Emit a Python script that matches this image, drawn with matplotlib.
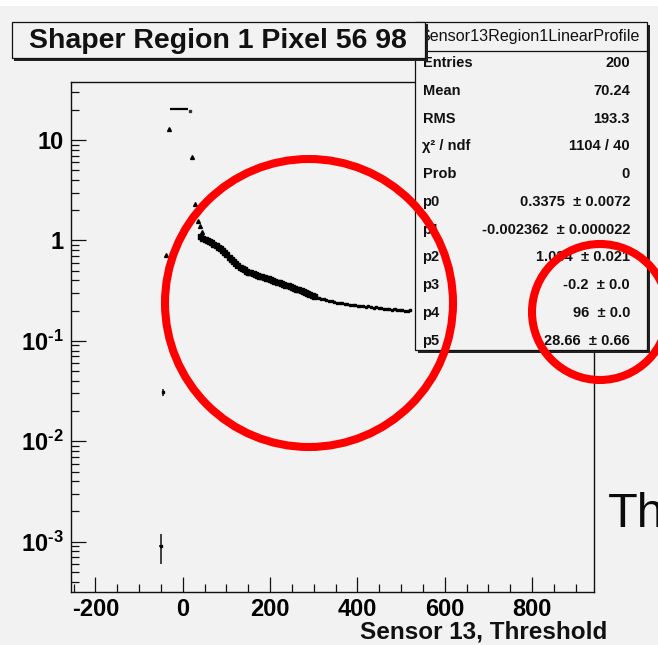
import math
import matplotlib
matplotlib.use('Agg')
import matplotlib.pyplot as plt
from matplotlib.patches import Rectangle, Ellipse
from matplotlib.ticker import FixedLocator, FuncFormatter, NullFormatter

plt.rcParams['font.family'] = ['Liberation Sans', 'DejaVu Sans']
plt.rcParams['mathtext.fontset'] = 'custom'
plt.rcParams['mathtext.rm'] = 'Liberation Sans:bold'
plt.rcParams['mathtext.bf'] = 'Liberation Sans:bold'
plt.rcParams['mathtext.it'] = 'Liberation Sans:bold'
plt.rcParams['axes.unicode_minus'] = False

# ---------------- data ----------------
title = "Shaper Region 1 Pixel 56 98"
x_label = "Sensor 13, Threshold"
stats_name = "Sensor13Region1LinearProfile"
stats_labels = ["Entries", "Mean", "RMS", "\u03c7\u00b2 / ndf", "Prob",
                "p0", "p1", "p2", "p3", "p4", "p5"]
stats_values = ["200", "70.24", "193.3", "1104 / 40", "0",
                "0.3375  \u00b1 0.0072", "-0.002362  \u00b1 0.000022",
                "1.034  \u00b1 0.021", "-0.2  \u00b1 0.0", "96  \u00b1 0.0",
                "28.66  \u00b1 0.66"]

x_ticks = [-200, 0, 200, 400, 600, 800]
x_range = [-257, 943]
y_range = [10 ** -3.501, 10 ** 1.581]

# dense part of the profile
dense_x = [40, 45, 50, 55, 60, 65, 70, 75, 80, 85, 90, 95, 100, 105, 110,
           115, 120, 125, 130, 135, 140, 145, 150, 155, 160, 165, 170, 175,
           180, 185, 190, 195, 200, 205, 210, 215, 220, 225, 230, 235, 240,
           245, 250, 255, 260, 265, 270, 275, 280, 285, 290, 295, 300]
dense_y = [1.10, 1.07, 1.04, 1.02, 0.99, 0.96, 0.93, 0.90, 0.87, 0.84,
           0.80, 0.77, 0.73, 0.69, 0.65, 0.62, 0.59, 0.565, 0.545, 0.53,
           0.515, 0.50, 0.49, 0.48, 0.47, 0.462, 0.455, 0.447, 0.440,
           0.433, 0.425, 0.418, 0.410, 0.403, 0.396, 0.389, 0.382, 0.375,
           0.368, 0.362, 0.356, 0.349, 0.343, 0.337, 0.331, 0.325, 0.319,
           0.313, 0.307, 0.301, 0.295, 0.288, 0.281]
# sparser tail of the profile
tail_x = [305, 311, 317, 323, 329, 335, 341, 347, 353, 359, 365, 371, 377,
          383, 389, 395, 401, 407, 413, 419, 425, 431, 437, 443, 449, 455,
          461, 467, 473, 479, 485, 491, 497, 503, 509, 515, 521]
tail_y = [0.274, 0.268, 0.263, 0.259, 0.256, 0.252, 0.249, 0.245, 0.241,
          0.238, 0.236, 0.233, 0.232, 0.229, 0.230, 0.226, 0.224, 0.225,
          0.221, 0.219, 0.220, 0.217, 0.214, 0.216, 0.212, 0.211, 0.209,
          0.210, 0.206, 0.205, 0.207, 0.203, 0.202, 0.204, 0.200, 0.199,
          0.201]
dense_rel_err = 0.05
tail_rel_err = 0.022

# isolated points near the start
iso_x = [-31.6, 21.8, 28.0, 35.6, 40.0, 44.0, -38.5]
iso_y = [12.8, 6.8, 2.3, 1.58, 1.38, 1.22, 0.72]

# wide bin at ~20
plateau_x = [-8.3]
plateau_xerr = [21.0]
plateau_y = [20.3]
edge_x = [15.5]
edge_y = [19.6]

# low points with error bars
low_x = [-45.0, -51.0]
low_y = [0.031, 0.00091]
low_err_lo = [0.0025, 0.00031]
low_err_hi = [0.0025, 0.00029]

# ---------------- figure ----------------
W, H = 658, 645
BG = '#f2f2f2'
fig = plt.figure(figsize=(W / 100, H / 100), dpi=100, facecolor=BG)


def fx(px):
    return px / W


def fy(py):
    return 1 - py / H


# thin white strip at the very top of the screenshot
fig.add_artist(Rectangle((0, fy(6)), 1, 6 / H, transform=fig.transFigure,
                         facecolor='white', edgecolor='none', zorder=0))

L, R, T, B = 70.6, 594.5, 81.7, 592.0
ax = fig.add_axes([fx(L), fy(B), (R - L) / W, (B - T) / H])
ax.set_facecolor(BG)
ax.set_yscale('log')
ax.set_xlim(*x_range)
ax.set_ylim(*y_range)

for s in ax.spines.values():
    s.set_linewidth(1.0)
    s.set_color('#111111')

ax.xaxis.set_major_locator(FixedLocator(x_ticks))
ax.xaxis.set_minor_locator(FixedLocator(list(range(-250, 950, 50))))
ax.set_xticklabels([str(v) for v in x_ticks])

ymaj = [1e-3, 1e-2, 1e-1, 1, 10]
ymin = [m * d for d in [1e-4, 1e-3, 1e-2, 1e-1, 1, 10] for m in range(2, 10)]
ax.yaxis.set_major_locator(FixedLocator(ymaj))
ax.yaxis.set_minor_locator(FixedLocator(ymin))
ax.yaxis.set_minor_formatter(NullFormatter())


def yfmt(v, pos):
    if v >= 10:
        return '10'
    if v >= 1:
        return '1'
    n = int(round(-math.log10(v)))
    return r'$10^{\text{-%d}}$' % n


ax.yaxis.set_major_formatter(FuncFormatter(yfmt))

ax.tick_params(axis='both', which='major', direction='in', length=11,
               width=0.9, color='#111111', labelsize=17)
ax.tick_params(axis='both', which='minor', direction='in', length=5.5,
               width=0.9, color='#111111')
ax.tick_params(axis='x', which='both', top=False, pad=4.5)
ax.tick_params(axis='y', which='both', right=False, pad=5)
for lab in ax.get_xticklabels() + ax.get_yticklabels():
    lab.set_fontweight('bold')

# profile points
ax.errorbar(dense_x, dense_y, yerr=[v * dense_rel_err for v in dense_y],
            xerr=3, fmt='s', ms=3.6, color='k', ecolor='k',
            elinewidth=2.0, capsize=0, zorder=3)
ax.errorbar(tail_x, tail_y, yerr=[v * tail_rel_err for v in tail_y],
            xerr=3, fmt='s', ms=1.8, color='k', ecolor='k',
            elinewidth=1.1, capsize=0, zorder=3)
ax.plot(iso_x, iso_y, linestyle='none', marker='^', ms=2.8, color='k',
        zorder=3)
ax.errorbar(plateau_x, plateau_y, xerr=plateau_xerr, fmt='none',
            ecolor='k', elinewidth=1.6, capsize=0, zorder=3)
ax.plot(edge_x, edge_y, linestyle='none', marker='s', ms=1.5, color='#333333',
        zorder=3)
ax.errorbar(low_x, low_y, yerr=[low_err_lo, low_err_hi], xerr=3,
            fmt='s', ms=1.8, color='k', ecolor='#222222', elinewidth=1.2,
            capsize=0, zorder=3)

# x axis title
fig.text(fx(607), fy(639), x_label, ha='right', va='baseline',
         fontsize=17.5, fontweight='bold', color='#111111')

# ---------------- stats box ----------------
sx0, sx1, sy0, sy1 = 415, 647, 22, 350
fig.add_artist(Rectangle((fx(sx0 + 2.5), fy(sy1 + 2.5)), (sx1 - sx0) / W,
                         (sy1 - sy0) / H, transform=fig.transFigure,
                         facecolor='#222222', edgecolor='none', zorder=5))
fig.add_artist(Rectangle((fx(sx0), fy(sy1)), (sx1 - sx0) / W,
                         (sy1 - sy0) / H, transform=fig.transFigure,
                         facecolor=BG, edgecolor='#111111', lw=0.9,
                         zorder=6))
fig.add_artist(plt.Line2D([fx(sx0), fx(sx1)], [fy(51), fy(51)],
                          transform=fig.transFigure, color='#111111',
                          lw=0.9, zorder=7))
fig.text(fx(529), fy(36.5), stats_name, ha='center', va='center',
         fontsize=11.6, color='#111111', zorder=8)
for i, (lab, val) in enumerate(zip(stats_labels, stats_values)):
    yy = 63.3 + 27.73 * i
    fig.text(fx(422.5), fy(yy), lab, ha='left', va='center',
             fontsize=10.5, fontweight='bold', color='#111111', zorder=8)
    fig.text(fx(630), fy(yy), val, ha='right', va='center',
             fontsize=10.5, fontweight='bold', color='#111111', zorder=8)

# ---------------- title box ----------------
tx0, tx1, ty0, ty1 = 11.7, 425, 21.7, 58
fig.add_artist(Rectangle((fx(tx0 + 2.5), fy(ty1 + 2.5)), (tx1 - tx0) / W,
                         (ty1 - ty0) / H, transform=fig.transFigure,
                         facecolor='#222222', edgecolor='none', zorder=9))
fig.add_artist(Rectangle((fx(tx0), fy(ty1)), (tx1 - tx0) / W,
                         (ty1 - ty0) / H, transform=fig.transFigure,
                         facecolor=BG, edgecolor='#111111', lw=0.9,
                         zorder=10))
fig.text(fx((tx0 + tx1) / 2), fy(48), title, ha='center', va='baseline',
         fontsize=20.5, fontweight='bold', color='#111111', zorder=11)

# ---------------- slide overlay ----------------
fig.text(fx(608), fy(527), "Th", ha='left', va='baseline', fontsize=35,
         color='#0a0a0a', zorder=12)

for (cx, cy, r) in [(309, 303, 144), (600, 312, 68)]:
    fig.add_artist(Ellipse((fx(cx), fy(cy)), 2 * r / W, 2 * r / H,
                           transform=fig.transFigure, facecolor='none',
                           edgecolor='#ff0000', lw=5.8, zorder=20))

fig.savefig('out.png', dpi=100, facecolor=BG)
